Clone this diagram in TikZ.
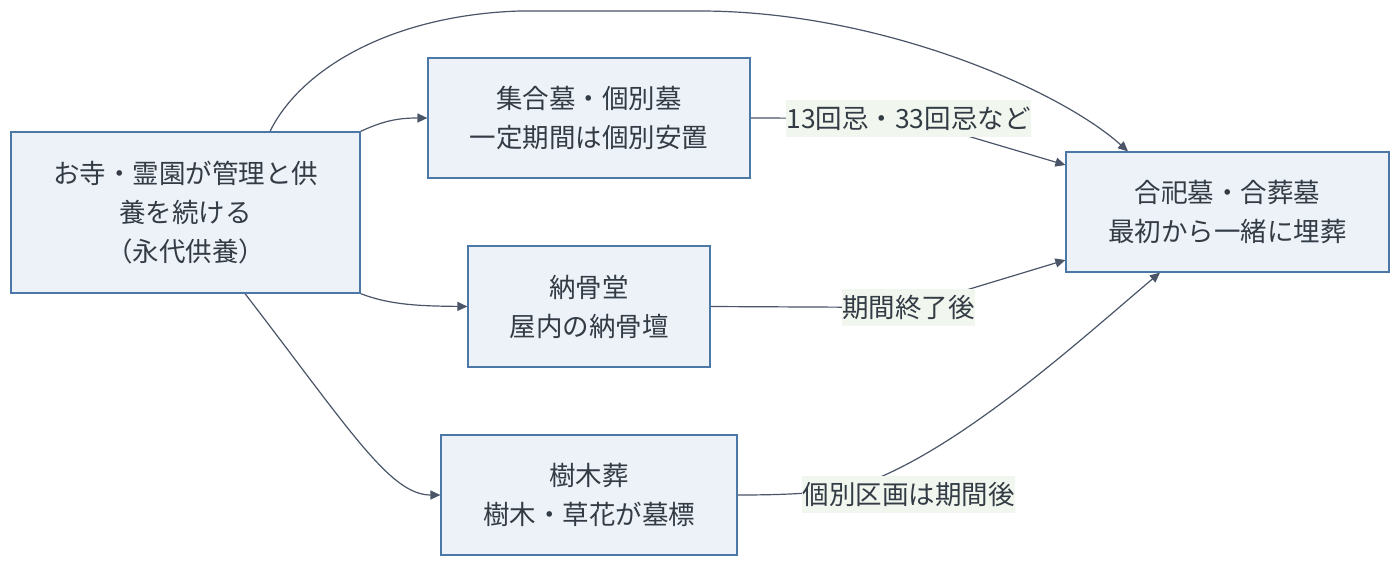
\documentclass[tikz,border=0pt]{standalone}
\usepackage{fontspec}
\setmainfont{Noto Sans CJK JP}
\usetikzlibrary{arrows.meta,backgrounds}
\pgfdeclarelayer{back}
\pgfsetlayers{back,background,main}
\definecolor{boxfill}{HTML}{EDF2F8}
\definecolor{boxline}{HTML}{4C78A8}
\definecolor{edgecol}{HTML}{4A5668}
\definecolor{labfill}{HTML}{F1F7EE}
\definecolor{txtcol}{HTML}{333B45}
\begin{document}
\begin{tikzpicture}[x=1pt,y=-1pt,
  every node/.style={text=txtcol, font=\fontsize{26.5}{39}\selectfont},
  box/.style={draw=boxline, fill=boxfill, line width=1.2pt, align=center, inner sep=0pt},
  lab/.style={fill=labfill, inner xsep=0.5pt, inner ysep=0pt, minimum height=37pt},
  edge/.style={draw=edgecol, line width=1.2pt, -{Triangle[length=10pt,width=9pt]}}]
\begin{pgfonlayer}{back}
\fill[white] (0,0) rectangle (1400,566);
\end{pgfonlayer}
\useasboundingbox (0,0) rectangle (1400,566);
\node[box, minimum width=349pt, minimum height=161pt] (A) at (185.5,212.5) {お寺・霊園が管理と供\\養を続ける\\（永代供養）};
\node[box, minimum width=322pt, minimum height=120pt] (B) at (589,118) {集合墓・個別墓\\一定期間は個別安置};
\node[box, minimum width=242pt, minimum height=121pt] (C) at (589,306.5) {納骨堂\\屋内の納骨壇};
\node[box, minimum width=296pt, minimum height=120pt] (D) at (589,495) {樹木葬\\樹木・草花が墓標};
\node[box, minimum width=323pt, minimum height=120pt] (E) at (1227.5,212) {合祀墓・合葬墓\\最初から一緒に埋葬};
\node[lab] (L1) at (908.5,118.5) {13回忌・33回忌など};
\node[lab] (L2) at (908.5,307.5) {期間終了後};
\node[lab] (L3) at (908.5,494.5) {個別区画は期間後};
\begin{pgfonlayer}{background}
\draw[edge] (A.north east) .. controls (385,120) and (400,118) .. (B.west);
\draw[edge] (A.south east) .. controls (390,305) and (420,306) .. (C.west);
\draw[edge] ([xshift=59.5pt]A.south) .. controls (350,430) and (390,495) .. (D.west);
\draw[edge] ([xshift=84.5pt]A.north) .. controls (300,70) and (390,15) .. (520,11) -- (700,11) .. controls (880,11) and (1060,90) .. ([xshift=-99.5pt]E.north);
\draw[edge] (B.east) -- (L1.center) -- ([yshift=47pt]E.west);
\draw[edge] (C.east) -- (L2.center) -- ([yshift=-48pt]E.west);
\draw[edge] (D.east) .. controls (800,495) and (830,492) .. (860,485) .. controls (960,450) and (1080,340) .. ([xshift=-67.5pt]E.south);
\end{pgfonlayer}
\end{tikzpicture}
\end{document}
